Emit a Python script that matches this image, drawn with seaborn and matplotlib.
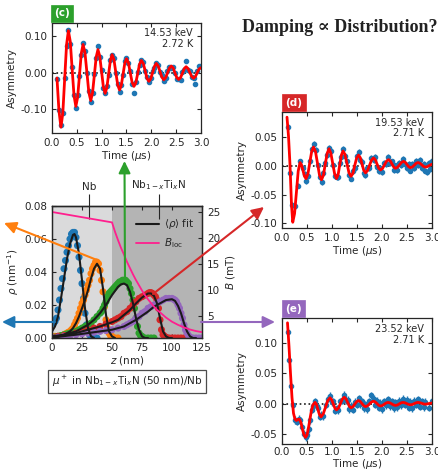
import numpy as np
import pandas as pd
import matplotlib
matplotlib.use("Agg")
import matplotlib.pyplot as plt
import seaborn as sns
from matplotlib.patches import FancyArrowPatch
from matplotlib.lines import Line2D
from matplotlib.ticker import FormatStrFormatter, MultipleLocator

# ---------------- panel (c): 14.53 keV ----------------
t_c = [0.100, 0.140, 0.180, 0.218, 0.255, 0.293, 0.330, 0.368, 0.405, 0.443,
       0.480, 0.516, 0.553, 0.589, 0.625, 0.664, 0.703, 0.741, 0.780, 0.816,
       0.853, 0.889, 0.925, 0.961, 0.998, 1.034, 1.070, 1.105, 1.140, 1.175,
       1.210, 1.248, 1.285, 1.323, 1.360, 1.395, 1.430, 1.465, 1.500, 1.538,
       1.575, 1.613, 1.650, 1.688, 1.725, 1.763, 1.800, 1.838, 1.875, 1.913,
       1.950, 1.988, 2.025, 2.063, 2.100, 2.138, 2.175, 2.213, 2.250, 2.288,
       2.325, 2.363, 2.400, 2.438, 2.475, 2.513, 2.550, 2.588, 2.625, 2.663,
       2.700, 2.738, 2.775, 2.813, 2.850, 2.888, 2.925, 2.963, 3.000]
fit_c = [-0.015, -0.105, -0.150, -0.111, -0.018, 0.076, 0.115, 0.085, 0.011, -0.063,
         -0.093, -0.068, -0.008, 0.052, 0.077, 0.054, 0.000, -0.054, -0.077, -0.056,
         -0.007, 0.042, 0.063, 0.045, 0.003, -0.039, -0.057, -0.041, -0.004, 0.033,
         0.049, 0.035, 0.000, -0.034, -0.048, -0.035, -0.005, 0.025, 0.038, 0.027,
         0.000, -0.027, -0.038, -0.028, -0.003, 0.023, 0.033, 0.025, 0.005, -0.016,
         -0.024, -0.017, 0.000, 0.017, 0.025, 0.018, 0.003, -0.013, -0.020, -0.014,
         -0.001, 0.012, 0.018, 0.013, -0.001, -0.014, -0.019, -0.014, -0.002, 0.011,
         0.016, 0.011, 0.000, -0.011, -0.016, -0.011, 0.000, 0.010, 0.013]
dat_c = [-0.018, -0.103, -0.145, -0.112, -0.015, 0.074, 0.116, 0.079, 0.015, -0.061,
         -0.096, -0.063, -0.009, 0.048, 0.080, 0.060, -0.002, -0.052, -0.082, -0.055,
         -0.003, 0.039, 0.072, 0.043, 0.006, -0.043, -0.055, -0.036, -0.007, 0.034,
         0.047, 0.039, -0.001, -0.031, -0.053, -0.033, -0.008, 0.031, 0.040, 0.026,
         0.003, -0.031, -0.055, -0.026, 0.002, 0.020, 0.034, 0.028, 0.003, -0.012,
         -0.027, -0.015, 0.005, 0.013, 0.026, 0.021, 0.001, -0.007, -0.023, -0.015,
         0.003, 0.014, 0.013, 0.016, 0.000, -0.018, -0.017, -0.020, 0.001, 0.008,
         0.033, 0.008, 0.003, -0.013, -0.015, -0.031, 0.004, 0.018, 0.019]
err_c = 0.004

# ---------------- panel (d): 19.53 keV ----------------
t_d_fit = [0.100, 0.130, 0.160, 0.190, 0.215, 0.251, 0.288, 0.324, 0.360, 0.390,
           0.420, 0.450, 0.480, 0.518, 0.555, 0.593, 0.630, 0.670, 0.710, 0.750,
           0.790, 0.828, 0.865, 0.903, 0.940, 0.978, 1.015, 1.053, 1.090, 1.123,
           1.155, 1.188, 1.220, 1.260, 1.300, 1.340, 1.380, 1.418, 1.455, 1.493,
           1.530, 1.565, 1.600, 1.635, 1.670, 1.710, 1.750, 1.790, 1.830, 1.865,
           1.900, 1.935, 1.970, 2.010, 2.050, 2.090, 2.130, 2.165, 2.200, 2.235,
           2.270, 2.310, 2.350, 2.390, 2.430, 2.465, 2.500, 2.535, 2.570, 2.608,
           2.645, 2.683, 2.720, 2.758, 2.795, 2.833, 2.870, 2.905, 2.940, 2.970, 3.000]
fit_d = [0.085, 0.052, 0.002, -0.068, -0.098, -0.083, -0.046, -0.009, 0.006, 0.002,
         -0.008, -0.018, -0.022, -0.014, 0.0055, 0.025, 0.033, 0.025, 0.0045, -0.016,
         -0.024, -0.016, 0.003, 0.022, 0.030, 0.022, 0.004, -0.014, -0.022, -0.015,
         0.002, 0.019, 0.026, 0.020, 0.004, -0.012, -0.018, -0.013, 0.001, 0.014,
         0.019, 0.0145, 0.0035, -0.0075, -0.012, -0.008, 0.001, 0.010, 0.014, 0.011,
         0.0035, -0.004, -0.007, -0.0044, 0.002, 0.0084, 0.011, 0.0088, 0.0035, -0.0018,
         -0.004, -0.0022, 0.002, 0.0062, 0.008, 0.0064, 0.0025, -0.0014, -0.003, -0.0017,
         0.0015, 0.0047, 0.006, 0.0048, 0.002, -0.0008, -0.002, -0.0012, 0.0005, 0.002, 0.003]
t_d_dat = [0.125, 0.165, 0.205, 0.265, 0.310, 0.365,
           0.420, 0.450, 0.480, 0.518, 0.555, 0.593, 0.630, 0.670, 0.710, 0.750,
           0.790, 0.828, 0.865, 0.903, 0.940, 0.978, 1.015, 1.053, 1.090, 1.123,
           1.155, 1.188, 1.220, 1.260, 1.300, 1.340, 1.380, 1.418, 1.455, 1.493,
           1.530, 1.565, 1.600, 1.635, 1.670, 1.710, 1.750, 1.790, 1.830, 1.865,
           1.900, 1.935, 1.970, 2.010, 2.050, 2.090, 2.130, 2.165, 2.200, 2.235,
           2.270, 2.310, 2.350, 2.390, 2.430, 2.465, 2.500, 2.535, 2.570, 2.608,
           2.645, 2.683, 2.720, 2.758, 2.795, 2.833, 2.870, 2.905, 2.940, 2.970, 3.000]
dat_d = [0.068, -0.012, -0.068, -0.070, -0.034, 0.008,
         -0.004, -0.014, -0.027, -0.018, 0.008, 0.029, 0.038, 0.028, 0.001, -0.020,
         -0.028, -0.012, 0.006, 0.019, 0.032, 0.026, 0.001, -0.018, -0.019, -0.020,
         0.005, 0.016, 0.030, 0.017, 0.008, -0.016, -0.022, -0.009, -0.003, 0.017,
         0.024, 0.011, 0.007, -0.012, -0.016, -0.004, -0.004, 0.014, 0.011, 0.016,
         -0.001, -0.009, -0.003, -0.010, 0.006, 0.004, 0.015, 0.005, 0.008, -0.007,
         0.001, -0.007, 0.006, 0.001, 0.012, 0.003, -0.003, 0.004, -0.008, 0.003,
         -0.004, 0.009, 0.001, 0.010, -0.003, 0.004, -0.008, -0.011, 0.006, -0.005, 0.009]
err_d = 0.005

# ---------------- panel (e): 23.52 keV ----------------
t_e_fit = [0.110, 0.140, 0.170, 0.200, 0.230, 0.260, 0.290, 0.320, 0.350, 0.380,
           0.410, 0.440, 0.470, 0.500, 0.530, 0.560, 0.590, 0.620, 0.660, 0.690,
           0.720, 0.750, 0.780, 0.825, 0.870, 0.915, 0.960, 0.993, 1.025, 1.058,
           1.090, 1.129, 1.168, 1.206, 1.245, 1.279, 1.313, 1.346, 1.380, 1.418,
           1.455, 1.493, 1.530, 1.565, 1.600, 1.635, 1.670, 1.710, 1.750, 1.790,
           1.830, 1.865, 1.900, 1.935, 1.970, 2.008, 2.045, 2.083, 2.120, 2.158,
           2.195, 2.233, 2.270, 2.308, 2.345, 2.383, 2.420, 2.458, 2.495, 2.533,
           2.570, 2.608, 2.645, 2.683, 2.720, 2.758, 2.795, 2.833, 2.870, 2.935, 3.000]
fit_e = [0.134, 0.095, 0.050, 0.010, -0.016, -0.026, -0.028, -0.026, -0.026, -0.032,
         -0.043, -0.052, -0.056, -0.052, -0.040, -0.025, -0.011, -0.002, 0.002, -0.0015,
         -0.010, -0.0185, -0.022, -0.017, -0.006, 0.005, 0.0095, 0.0065, -0.0005, -0.0075,
         -0.0105, -0.0074, 0.000, 0.0074, 0.0105, 0.008, 0.0018, -0.0044, -0.007, -0.0052,
         -0.001, 0.0032, 0.005, 0.0035, 0.000, -0.0035, -0.005, -0.0037, -0.0005, 0.0027,
         0.004, 0.0028, 0.000, -0.0028, -0.004, -0.0031, -0.001, 0.0011, 0.002, 0.0013,
         -0.0005, -0.0023, -0.003, -0.0023, -0.0005, 0.0013, 0.002, 0.0014, 0.000, -0.0014,
         -0.002, -0.0014, 0.000, 0.0014, 0.002, 0.0015, 0.0005, -0.0006, -0.001, 0.000, 0.001]
t_e_dat = [0.113, 0.147, 0.173, 0.213, 0.250, 0.290, 0.330, 0.360, 0.400, 0.430,
           0.470, 0.500, 0.530, 0.560, 0.590, 0.620, 0.660, 0.690,
           0.720, 0.750, 0.780, 0.825, 0.870, 0.915, 0.960, 0.993, 1.025, 1.058,
           1.090, 1.129, 1.168, 1.206, 1.245, 1.279, 1.313, 1.346, 1.380, 1.418,
           1.455, 1.493, 1.530, 1.565, 1.600, 1.635, 1.670, 1.710, 1.750, 1.790,
           1.830, 1.865, 1.900, 1.935, 1.970, 2.008, 2.045, 2.083, 2.120, 2.158,
           2.195, 2.233, 2.270, 2.308, 2.345, 2.383, 2.420, 2.458, 2.495, 2.533,
           2.570, 2.608, 2.645, 2.683, 2.720, 2.758, 2.795, 2.833, 2.870, 2.935, 3.000]
dat_e = [0.118, 0.073, 0.029, -0.003, -0.027, -0.030, -0.025, -0.028, -0.038, -0.050,
         -0.056, -0.052, -0.042, -0.027, -0.010, -0.004, 0.004, -0.004,
         -0.008, -0.022, -0.019, -0.021, -0.002, 0.008, 0.013, 0.002, 0.004, -0.012,
         -0.008, -0.011, 0.004, 0.005, 0.015, 0.006, 0.006, -0.009, -0.004, -0.010,
         0.003, -0.002, 0.009, -0.001, 0.004, -0.008, -0.001, -0.009, 0.004, 0.014,
         0.008, -0.002, 0.005, -0.007, 0.001, -0.009, 0.004, -0.003, 0.007, -0.004,
         0.004, -0.008, 0.002, -0.006, 0.005, -0.003, 0.008, -0.002, 0.006, -0.007,
         0.003, -0.008, 0.005, -0.002, 0.007, -0.005, 0.004, -0.006, 0.003, -0.007, 0.004]
err_e = 0.006

# ---------------- stopping profiles ----------------
z_blue = [0, 1.25, 2.5, 3.75, 5, 6.25, 7.5, 8.75, 10, 11.25, 12.5, 13.75, 15, 16.25,
          17.5, 18.75, 20, 21.25, 22.5, 23.75, 25, 26.25, 27.5, 28.75, 30, 31.25, 32.5, 35, 37.5]
rho_blue = [0.009, 0.009, 0.010, 0.012, 0.017, 0.023, 0.030, 0.036, 0.042, 0.047, 0.052,
            0.056, 0.060, 0.063, 0.064, 0.064, 0.061, 0.056, 0.049, 0.041, 0.033, 0.024,
            0.015, 0.008, 0.004, 0.002, 0.001, 0.0, 0.0]
z_orange = [0, 2.5, 5, 7.5, 10, 11.25, 12.5, 13.75, 15, 16.25, 17.5, 18.75, 20, 21.25,
            22.5, 23.75, 25, 26.25, 27.5, 28.75, 30, 31.25, 32.5, 33.75, 35, 36.25, 37.5,
            38.75, 40, 41.25, 42.5, 43.75, 45, 46.25, 47.5, 48.75, 50, 52.5, 55]
rho_orange = [0.0005, 0.001, 0.001, 0.0015, 0.002, 0.0025, 0.003, 0.0035, 0.004, 0.005,
              0.006, 0.008, 0.010, 0.012, 0.015, 0.018, 0.021, 0.023, 0.026, 0.029, 0.032,
              0.035, 0.039, 0.042, 0.044, 0.046, 0.046, 0.045, 0.041, 0.035, 0.028, 0.019,
              0.011, 0.006, 0.003, 0.0015, 0.001, 0.0, 0.0]
z_green = [0, 2.5, 5, 7.5, 10, 12.5, 15, 17.5, 20, 22.5, 25, 27.5, 30, 32.5, 35, 37.5, 40,
           41.25, 42.5, 43.75, 45, 46.25, 47.5, 48.75, 50, 51.25, 52.5, 53.75, 55, 56.25,
           57.5, 58.75, 60, 61.25, 62.5, 63.75, 65, 66.25, 67.5, 68.75, 70, 71.25, 72.5,
           73.75, 75, 77.5, 80, 82.5, 85]
rho_green = [0.0, 0.0005, 0.001, 0.0015, 0.002, 0.0025, 0.003, 0.0035, 0.004, 0.005, 0.006,
             0.007, 0.008, 0.009, 0.011, 0.013, 0.015, 0.016, 0.018, 0.020, 0.022, 0.025,
             0.027, 0.028, 0.029, 0.030, 0.031, 0.032, 0.033, 0.034, 0.034, 0.035, 0.035,
             0.035, 0.034, 0.033, 0.030, 0.027, 0.023, 0.018, 0.012, 0.007, 0.003, 0.0015,
             0.001, 0.0, 0.0, 0.0, 0.0]
z_red = [0, 5, 10, 15, 20, 25, 30, 35, 40, 45, 50, 52.5, 55, 57.5, 60, 62.5, 65, 67.5, 70,
         72.5, 75, 77.5, 80, 81.25, 82.5, 83.75, 85, 86.25, 87.5, 88.75, 90, 91.25, 92.5,
         93.75, 95, 97.5, 100, 102.5, 105, 107.5, 110]
rho_red = [0.0005, 0.001, 0.0015, 0.002, 0.003, 0.004, 0.005, 0.006, 0.007, 0.0085, 0.010,
           0.011, 0.012, 0.013, 0.015, 0.016, 0.018, 0.020, 0.022, 0.024, 0.025, 0.026,
           0.027, 0.0275, 0.0275, 0.027, 0.026, 0.025, 0.023, 0.018, 0.011, 0.005, 0.002,
           0.001, 0.0005, 0.0, 0.0, 0.0, 0.0, 0.0, 0.0]
z_purple = [0, 5, 10, 15, 20, 25, 30, 35, 40, 45, 50, 55, 60, 62.5, 65, 67.5, 70, 72.5, 75,
            77.5, 80, 82.5, 85, 87.5, 90, 92.5, 95, 97.5, 100, 101.25, 102.5, 103.75, 105,
            106.25, 107.5, 108.75, 110, 111.25, 112.5, 113.75, 115, 117.5, 120, 122.5, 125]
rho_purple = [0.0003, 0.0005, 0.001, 0.0015, 0.002, 0.0025, 0.003, 0.0035, 0.004, 0.0045,
              0.005, 0.006, 0.007, 0.008, 0.009, 0.010, 0.012, 0.013, 0.015, 0.016, 0.018,
              0.019, 0.020, 0.021, 0.022, 0.023, 0.024, 0.024, 0.024, 0.0235, 0.023, 0.022,
              0.020, 0.018, 0.015, 0.012, 0.008, 0.005, 0.003, 0.0015, 0.0005, 0.0, 0.0, 0.0, 0.0]

zf_blue = [0, 2.5, 5, 7.5, 10, 12.5, 15, 17.5, 18.75, 20, 22.5, 25, 27.5, 30, 32.5, 35]
ff_blue = [0.004, 0.007, 0.013, 0.024, 0.036, 0.048, 0.057, 0.0625, 0.063, 0.061, 0.051,
           0.035, 0.018, 0.006, 0.001, 0.0]
zf_orange = [0, 5, 10, 15, 17.5, 20, 22.5, 25, 27.5, 30, 32.5, 35, 37.5, 40, 42.5, 45, 47.5, 50, 52.5]
ff_orange = [0.0005, 0.001, 0.002, 0.004, 0.006, 0.009, 0.013, 0.018, 0.023, 0.029, 0.036,
             0.042, 0.045, 0.042, 0.030, 0.014, 0.004, 0.001, 0.0]
zf_green = [0, 10, 20, 30, 35, 40, 45, 50, 55, 57.5, 60, 62.5, 65, 67.5, 70, 72.5, 75, 77.5, 80]
ff_green = [0.001, 0.002, 0.004, 0.008, 0.011, 0.015, 0.020, 0.026, 0.031, 0.0325, 0.033,
            0.032, 0.028, 0.021, 0.012, 0.005, 0.001, 0.0, 0.0]
zf_red = [0, 10, 20, 30, 40, 50, 55, 60, 65, 70, 75, 80, 82.5, 85, 87.5, 90, 92.5, 95, 97.5, 100]
ff_red = [0.0005, 0.0015, 0.003, 0.005, 0.007, 0.0095, 0.011, 0.014, 0.017, 0.021, 0.0245,
          0.027, 0.027, 0.0255, 0.021, 0.012, 0.004, 0.001, 0.0, 0.0]
zf_purple = [0, 20, 40, 50, 60, 70, 80, 85, 90, 95, 100, 102.5, 105, 107.5, 110, 112.5, 115, 117.5, 120]
ff_purple = [0.0003, 0.002, 0.004, 0.005, 0.007, 0.011, 0.016, 0.019, 0.021, 0.023, 0.0235,
             0.0225, 0.0195, 0.015, 0.009, 0.004, 0.001, 0.0, 0.0]

z_B = [0, 50, 52.5, 55, 57.5, 60, 62.5, 65, 67.5, 70, 72.5, 75, 77.5, 80, 82.5, 85, 87.5,
       90, 92.5, 95, 97.5, 100, 105, 110, 115, 120, 125]
B_loc = [25.0, 23.0, 21.2, 19.6, 18.1, 16.8, 15.4, 14.2, 13.0, 11.9, 10.9, 9.9, 9.0, 8.2,
         7.5, 6.8, 6.2, 5.7, 5.2, 4.7, 4.3, 3.9, 3.3, 2.8, 2.4, 2.1, 1.9]

C_BLUE, C_ORANGE, C_GREEN, C_RED, C_PURPLE = "#1f77b4", "#ff7f0e", "#2ca02c", "#d62728", "#9467bd"
C_PINK = "#ff1f8e"

sns.set_theme(style="ticks")
plt.rcParams.update({
    "font.family": ["DejaVu Sans"],
    "mathtext.fontset": "dejavusans",
    "font.size": 7.5,
    "axes.labelsize": 7.5,
    "xtick.labelsize": 7.5,
    "ytick.labelsize": 7.5,
    "axes.unicode_minus": False,
    "xtick.direction": "in",
    "ytick.direction": "in",
    "xtick.top": True,
    "ytick.right": True,
    "xtick.major.size": 3,
    "ytick.major.size": 3,
    "xtick.major.width": 0.8,
    "ytick.major.width": 0.8,
    "axes.linewidth": 0.9,
    "axes.labelpad": 2.5,
})

W, H = 439, 471
fig = plt.figure(figsize=(W / 100, H / 100), dpi=100)


def rect(l, t, r, b):
    return [l / W, 1 - b / H, (r - l) / W, (b - t) / H]


def fpt(x, y):
    return (x / W, 1 - y / H)


def asym_panel(box, t_fit, a_fit, t_dat, a_dat, err, ylim, yticks, info, xpad=3.5, lpad=1):
    ax = fig.add_axes(rect(*box))
    ax.axhline(0, color="k", ls=":", lw=1.2, zorder=1)
    ax.errorbar(t_dat, a_dat, yerr=err, fmt="o", ms=3, color=C_BLUE, ecolor=C_BLUE,
                elinewidth=1.0, capsize=0, zorder=2)
    df = pd.DataFrame({"t": t_fit, "a": a_fit})
    sns.lineplot(data=df, x="t", y="a", color="red", lw=2.0, ax=ax, zorder=3, sort=False)
    ax.set_xlim(0, 3.0)
    ax.set_ylim(*ylim)
    ax.set_yticks(yticks)
    ax.xaxis.set_major_locator(MultipleLocator(0.5))
    ax.xaxis.set_major_formatter(FormatStrFormatter("%.1f"))
    ax.yaxis.set_major_formatter(FormatStrFormatter("%.2f"))
    ax.tick_params(axis="x", pad=xpad)
    ax.set_xlabel(r"Time ($\mu$s)", labelpad=lpad)
    ax.set_ylabel("Asymmetry")
    ax.text(0.945, 0.95, info, transform=ax.transAxes, ha="right", va="top",
            fontsize=7, linespacing=1.05, color=".15")
    return ax


asym_panel((52, 23, 201, 133), t_c, fit_c, t_c, dat_c, err_c, (-0.166, 0.136),
           [-0.10, 0.00, 0.10], "14.53 keV\n2.72 K")
asym_panel((282, 112, 432, 228), t_d_fit, fit_d, t_d_dat, dat_d, err_d, (-0.108, 0.094),
           [-0.10, -0.05, 0.00, 0.05], "19.53 keV\n2.71 K")
asym_panel((282, 318, 432, 444), t_e_fit, fit_e, t_e_dat, dat_e, err_e, (-0.067, 0.142),
           [-0.05, 0.00, 0.05, 0.10], "23.52 keV\n2.71 K", xpad=2, lpad=0)

# ---------------- central profile panel ----------------
axp = fig.add_axes(rect(52, 206, 202, 338))
axp.axvspan(0, 50, color="#dadadb", lw=0, zorder=0)
axp.axvspan(50, 125, color="#b4b4b4", lw=0, zorder=0)
profiles = [(z_blue, rho_blue, C_BLUE), (z_orange, rho_orange, C_ORANGE),
            (z_green, rho_green, C_GREEN), (z_red, rho_red, C_RED),
            (z_purple, rho_purple, C_PURPLE)]
for z, r, c in profiles:
    sns.scatterplot(x=z, y=r, color=c, s=26, edgecolor="none", linewidth=0, ax=axp,
                    zorder=2, legend=False)
fits = [(zf_blue, ff_blue), (zf_orange, ff_orange), (zf_green, ff_green),
        (zf_red, ff_red), (zf_purple, ff_purple)]
for z, f in fits:
    sns.lineplot(x=z, y=f, color="k", lw=1.5, ax=axp, zorder=3, sort=False)
axp.set_xlim(0, 125)
axp.set_ylim(0, 0.08)
axp.set_xticks([0, 25, 50, 75, 100, 125])
axp.set_yticks([0.00, 0.02, 0.04, 0.06, 0.08])
axp.yaxis.set_major_formatter(FormatStrFormatter("%.2f"))
axp.set_xlabel(r"$z$ (nm)", labelpad=1)
axp.set_ylabel(r"$\rho$ (nm$^{-1}$)")
axp.tick_params(right=False, top=True)

axb = axp.twinx()
sns.lineplot(x=z_B, y=B_loc, color=C_PINK, lw=1.3, ax=axb, sort=False)
axb.set_ylim(0.77, 26.15)
axb.set_yticks([5, 10, 15, 20, 25])
axb.set_ylabel(r"$B$ (mT)")
axb.tick_params(left=False, right=True, direction="in")

handles = [Line2D([], [], color="k", lw=1.5), Line2D([], [], color=C_PINK, lw=1.3)]
axb.legend(handles, [r"$\langle\rho\rangle$ fit", r"$B_{\mathrm{loc}}$"], loc="upper right",
           bbox_to_anchor=(1.0, 0.97), frameon=False, fontsize=7.5, handlelength=2.2,
           handletextpad=0.5, labelspacing=0.5, borderaxespad=0.3)

sec = axp.secondary_xaxis("top")
sec.set_xticks([31, 89])
sec.set_xticklabels(["Nb", r"Nb$_{1-x}$Ti$_x$N"])
sec.tick_params(direction="inout", length=18, width=0.8, pad=1, labelsize=7.5)

fig.text(127 / W, 1 - 381.5 / H, r"$\mu^+$ in Nb$_{1-x}$Ti$_x$N (50 nm)/Nb",
         ha="center", va="center", fontsize=7.5, color=".15",
         bbox=dict(boxstyle="square,pad=0.35", fc="white", ec=".3", lw=0.9))

# ---------------- panel tags ----------------
for (x, y, s, c) in [(62, 13.5, "(c)", C_GREEN), (294, 102.5, "(d)", C_RED),
                     (293.5, 308.5, "(e)", C_PURPLE)]:
    fig.text(x / W, 1 - y / H, s, ha="center", va="center", fontsize=7.5,
             fontweight="bold", color="white",
             bbox=dict(boxstyle="square,pad=0.3", fc=c, ec=c, lw=0.5))

fig.text(242 / W, 1 - 27 / H, "Damping \u221d Distribution?", ha="left", va="center",
         fontsize=13, fontweight="bold", color="#222222",
         family=["Liberation Serif", "DejaVu Serif"])

# ---------------- arrows ----------------
arrows = [((55, 322), (2, 322), C_BLUE), ((97, 260), (4, 223), C_ORANGE),
          ((125, 281), (124.5, 161), C_GREEN), ((153, 294), (264, 207), C_RED),
          ((201, 322), (275, 322), C_PURPLE)]
for a, b, c in arrows:
    fig.add_artist(FancyArrowPatch(fpt(*a), fpt(*b), transform=fig.transFigure,
                                   arrowstyle="-|>,head_length=0.45,head_width=0.22",
                                   mutation_scale=16, lw=1.5, color=c, shrinkA=0,
                                   shrinkB=0, zorder=20))

fig.savefig("out.png", dpi=100)
